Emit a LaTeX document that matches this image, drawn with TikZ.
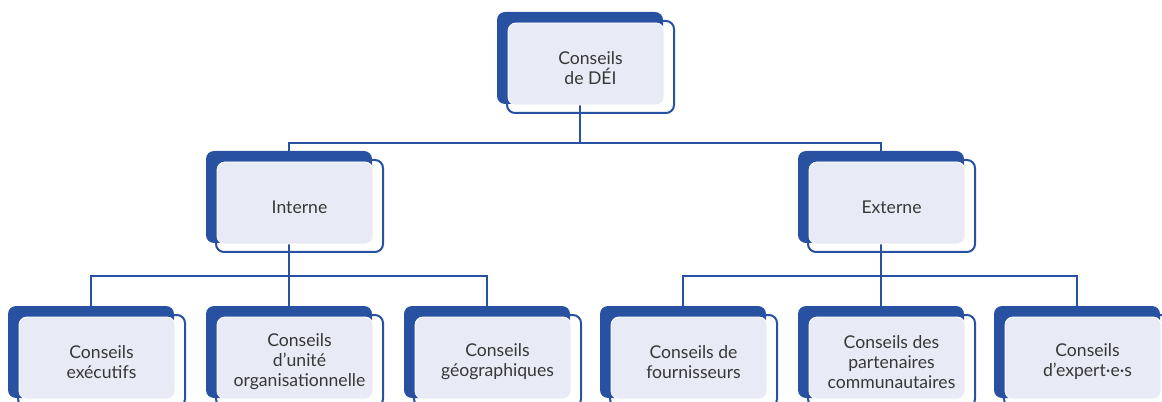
\documentclass[tikz,border=0pt]{standalone}
\usepackage{fontspec}
\setmainfont{Lato}
\usetikzlibrary{positioning, calc}
\pgfdeclarelayer{background}
\pgfsetlayers{background,main}
\definecolor{deiblue}{RGB}{41,81,161}
\definecolor{deifill}{RGB}{232,235,245}
\definecolor{deitext}{RGB}{55,55,55}
\tikzset{
    blocback/.style={rectangle, rounded corners=6pt, fill=deiblue, draw=none,
        minimum width=124.5pt, minimum height=69pt, inner sep=0pt, outer sep=0pt},
    blocfront/.style={fill=deifill, draw=white, line width=0.6pt, rounded corners=6pt},
    blocline/.style={draw=deiblue, line width=1.5pt, rounded corners=6pt},
    bloctext/.style={align=center, text=deitext, font=\fontsize{13.2}{15}\selectfont},
    link/.style={draw=deiblue, line width=1.5pt},
}
\newcommand{\Bloc}[3]{%
    \node[blocback] (#1) at (#2) {};
    \draw[blocline] ([shift={(10,9)}]#1.north west) rectangle ([shift={(11,9)}]#1.south east);
    \draw[blocfront] ([shift={(11,11)}]#1.north west) rectangle ([shift={(1,1)}]#1.south east);
    \node[bloctext] (#1-txt) at ([shift={(10.5,10)}]#1.center) {#3};
}

\begin{document}
\begin{tikzpicture}[x=0.75pt, y=-0.75pt]
    \useasboundingbox (0,0) rectangle (1162,402);

    % level 0
    \Bloc{dei}{580,58}{Conseils\\de DÉI}

    % level 1
    \Bloc{interne}{289,197}{Interne}
    \Bloc{externe}{881,197}{Externe}

    % level 2
    \Bloc{executifs}{91,352}{Conseils\\exécutifs}
    \Bloc{unite}{289,352}{Conseils\\d’unité\\organisationnelle}
    \Bloc{geo}{487,352}{Conseils\\géographiques}
    \Bloc{fournisseurs}{683,352}{Conseils de\\fournisseurs}
    \Bloc{partenaires}{881,352}{Conseils des\\partenaires\\communautaires}
    \Bloc{experts}{1077,352}{Conseils\\d’expert·e·s}

    \begin{pgfonlayer}{background}
        \draw[link] (dei.south) -- ++(0,39) -| (interne.north);
        \draw[link] (dei.south) -- ++(0,39) -| (externe.north);

        \foreach \c in {executifs, unite, geo}
            \draw[link] (interne.south) -- ++(0,33) -| (\c.north);
        \foreach \c in {fournisseurs, partenaires, experts}
            \draw[link] (externe.south) -- ++(0,33) -| (\c.north);
    \end{pgfonlayer}
\end{tikzpicture}
\end{document}
